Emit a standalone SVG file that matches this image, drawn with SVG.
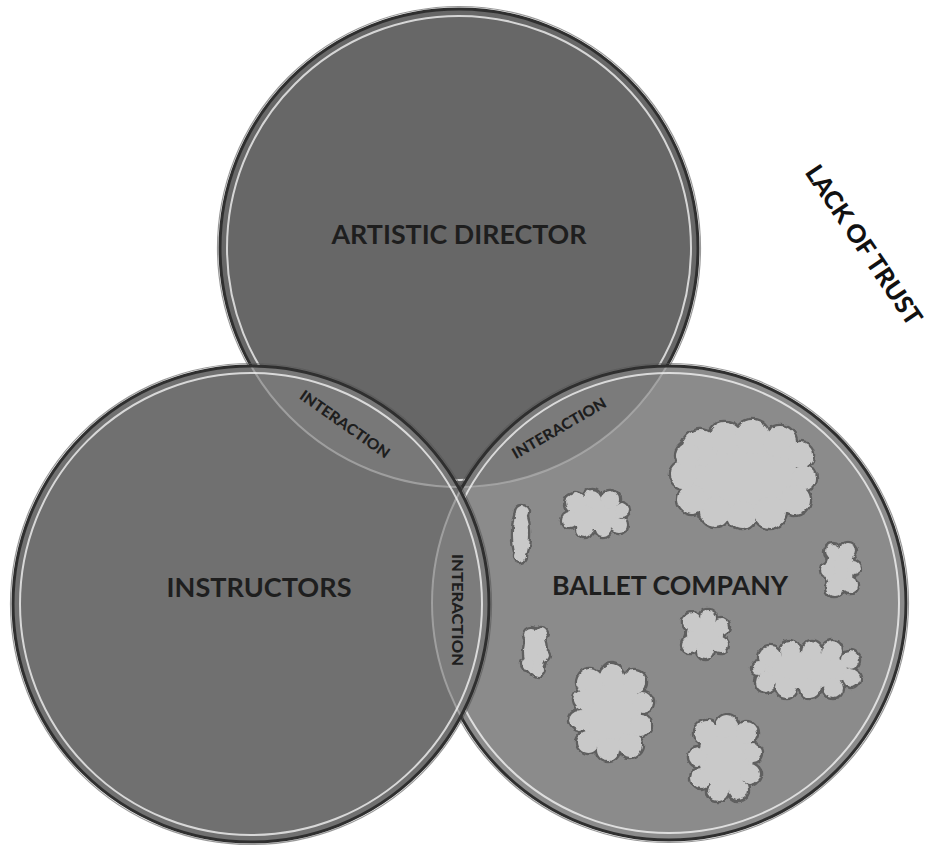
<svg xmlns="http://www.w3.org/2000/svg" xmlns:xlink="http://www.w3.org/1999/xlink" width="933" height="849" viewBox="0 0 933 849">
<style>
.lbl{font-family:Lato,"Open Sans","Liberation Sans",sans-serif;font-weight:700;fill:#1e1e1e;text-anchor:middle}
.big{font-size:27px}
.small{font-size:15px;font-weight:900}
.rimOut{fill:none;stroke:#2f2f2f;stroke-width:3}
.rimShadow{fill:none;stroke:#555;stroke-width:1.2;opacity:.6}
.rimHi{fill:none;stroke:#f2f2f2;stroke-width:2;opacity:.8}
.hidden{fill:none;stroke:#b0b0b0;stroke-width:2;opacity:.7}
.cloud-edge{fill:#5e5e5e;stroke:#5e5e5e;stroke-width:4.5}
.cloud-body{fill:#c9c9c9;stroke:none}
</style>
<defs>
<filter id="rough" x="-10%" y="-10%" width="120%" height="120%">
<feTurbulence type="fractalNoise" baseFrequency="0.12" numOctaves="2" seed="7" result="n"/>
<feDisplacementMap in="SourceGraphic" in2="n" scale="5" xChannelSelector="R" yChannelSelector="G"/>
</filter>
<clipPath id="cT"><circle cx="459" cy="248" r="239"/></clipPath>
<clipPath id="cL"><circle cx="251" cy="604" r="238"/></clipPath>
<clipPath id="cR"><circle cx="669" cy="603" r="237"/></clipPath>
<g id="cl1"><ellipse cx="742" cy="476" rx="55" ry="38"/><circle cx="700" cy="448" r="18"/><circle cx="725" cy="438" r="16"/><circle cx="752" cy="437" r="17"/><circle cx="780" cy="442" r="16"/><circle cx="800" cy="455" r="13"/><circle cx="804" cy="478" r="12"/><circle cx="795" cy="500" r="15"/><circle cx="770" cy="512" r="16"/><circle cx="742" cy="515" r="14"/><circle cx="715" cy="512" r="15"/><circle cx="692" cy="500" r="14"/><circle cx="684" cy="475" r="14"/><circle cx="688" cy="455" r="12"/></g>
<g id="cl2"><ellipse cx="595" cy="515" rx="26" ry="16"/><circle cx="575" cy="503" r="10"/><circle cx="592" cy="499" r="9"/><circle cx="610" cy="500" r="9"/><circle cx="622" cy="510" r="7"/><circle cx="619" cy="525" r="8"/><circle cx="603" cy="529" r="8"/><circle cx="585" cy="529" r="8"/><circle cx="570" cy="520" r="8"/></g>
<g id="cl3"><ellipse cx="521" cy="534" rx="8" ry="27"/><circle cx="522" cy="512" r="6"/><circle cx="520" cy="556" r="6"/></g>
<g id="cl4"><ellipse cx="840" cy="570" rx="14" ry="22"/><circle cx="833" cy="552" r="8"/><circle cx="848" cy="551" r="8"/><circle cx="853" cy="568" r="7"/><circle cx="850" cy="585" r="8"/><circle cx="834" cy="588" r="8"/><circle cx="828" cy="570" r="7"/></g>
<g id="cl5"><ellipse cx="705" cy="635" rx="18" ry="17"/><circle cx="692" cy="622" r="9"/><circle cx="708" cy="618" r="8"/><circle cx="721" cy="627" r="8"/><circle cx="720" cy="645" r="8"/><circle cx="705" cy="651" r="8"/><circle cx="690" cy="645" r="8"/></g>
<g id="cl6"><ellipse cx="535" cy="652" rx="11" ry="22"/><circle cx="531" cy="635" r="7"/><circle cx="541" cy="634" r="6"/><circle cx="543" cy="655" r="6"/><circle cx="538" cy="670" r="6"/><circle cx="528" cy="664" r="6"/></g>
<g id="cl7"><ellipse cx="806" cy="670" rx="42" ry="18"/><circle cx="770" cy="657" r="11"/><circle cx="790" cy="651" r="10"/><circle cx="812" cy="651" r="10"/><circle cx="832" cy="651" r="10"/><circle cx="850" cy="660" r="9"/><circle cx="851" cy="678" r="9"/><circle cx="833" cy="688" r="10"/><circle cx="810" cy="688" r="10"/><circle cx="786" cy="688" r="10"/><circle cx="766" cy="682" r="10"/><circle cx="759" cy="668" r="7"/></g>
<g id="cl8"><ellipse cx="611" cy="712" rx="30" ry="38"/><circle cx="590" cy="682" r="13"/><circle cx="612" cy="676" r="12"/><circle cx="634" cy="682" r="12"/><circle cx="643" cy="702" r="10"/><circle cx="640" cy="725" r="11"/><circle cx="630" cy="745" r="12"/><circle cx="608" cy="750" r="11"/><circle cx="588" cy="742" r="11"/><circle cx="580" cy="720" r="10"/><circle cx="583" cy="700" r="10"/></g>
<g id="cl9"><ellipse cx="726" cy="757" rx="27" ry="33"/><circle cx="706" cy="733" r="12"/><circle cx="727" cy="726" r="11"/><circle cx="746" cy="733" r="11"/><circle cx="753" cy="753" r="9"/><circle cx="750" cy="774" r="10"/><circle cx="738" cy="790" r="10"/><circle cx="718" cy="791" r="10"/><circle cx="701" cy="778" r="10"/><circle cx="698" cy="757" r="9"/></g>
</defs>
<rect width="933" height="849" fill="#ffffff"/>

<g id="artistic-director">
<circle cx="459" cy="248" r="239" fill="#676767"/>
<circle class="rimShadow" cx="459" cy="248" r="241.5"/>
<circle class="rimOut" cx="459" cy="248" r="239"/>
<circle class="rimHi" cx="459" cy="248" r="232"/>
<text class="lbl big" x="459" y="244" textLength="255" lengthAdjust="spacingAndGlyphs">ARTISTIC DIRECTOR</text>
</g>

<g id="ballet-company">
<circle cx="669" cy="603" r="237" fill="#8b8b8b"/>
<circle cx="459" cy="248" r="239" clip-path="url(#cR)" fill="#7b7b7b"/>
<circle class="hidden" cx="459" cy="248" r="239" clip-path="url(#cR)"/>
<circle class="rimShadow" cx="669" cy="603" r="239.5"/>
<circle class="rimOut" cx="669" cy="603" r="237"/>
<circle class="rimHi" cx="669" cy="603" r="230"/>
<g id="clouds" filter="url(#rough)">
<use xlink:href="#cl1" class="cloud-edge"/><use xlink:href="#cl1" class="cloud-body"/>
<use xlink:href="#cl2" class="cloud-edge"/><use xlink:href="#cl2" class="cloud-body"/>
<use xlink:href="#cl3" class="cloud-edge"/><use xlink:href="#cl3" class="cloud-body"/>
<use xlink:href="#cl4" class="cloud-edge"/><use xlink:href="#cl4" class="cloud-body"/>
<use xlink:href="#cl5" class="cloud-edge"/><use xlink:href="#cl5" class="cloud-body"/>
<use xlink:href="#cl6" class="cloud-edge"/><use xlink:href="#cl6" class="cloud-body"/>
<use xlink:href="#cl7" class="cloud-edge"/><use xlink:href="#cl7" class="cloud-body"/>
<use xlink:href="#cl8" class="cloud-edge"/><use xlink:href="#cl8" class="cloud-body"/>
<use xlink:href="#cl9" class="cloud-edge"/><use xlink:href="#cl9" class="cloud-body"/>
</g>
<text class="lbl big" x="670" y="595" textLength="236" lengthAdjust="spacingAndGlyphs">BALLET COMPANY</text>
</g>

<g id="instructors">
<circle cx="251" cy="604" r="238" fill="#707070"/>
<circle cx="459" cy="248" r="239" clip-path="url(#cL)" fill="#787878"/>
<circle cx="669" cy="603" r="237" clip-path="url(#cL)" fill="#7c7c7c"/>
<circle class="hidden" cx="459" cy="248" r="239" clip-path="url(#cL)"/>
<circle class="hidden" cx="669" cy="603" r="237" clip-path="url(#cL)"/>
<circle class="rimShadow" cx="251" cy="604" r="240.5"/>
<circle class="rimOut" cx="251" cy="604" r="238"/>
<circle class="rimHi" cx="251" cy="604" r="231"/>
<text class="lbl big" x="259" y="597" textLength="185" lengthAdjust="spacingAndGlyphs">INSTRUCTORS</text>
</g>

<g id="interaction-left">
<text class="lbl small" transform="translate(345,424) rotate(35)" x="0" y="5.5" textLength="106" lengthAdjust="spacingAndGlyphs">INTERACTION</text>
</g>
<g id="interaction-right">
<text class="lbl small" transform="translate(559,428) rotate(-30)" x="0" y="5.5" textLength="106" lengthAdjust="spacingAndGlyphs">INTERACTION</text>
</g>
<g id="interaction-bottom">
<text class="lbl small" transform="translate(457,610) rotate(90)" x="0" y="5.5" textLength="112" lengthAdjust="spacingAndGlyphs">INTERACTION</text>
</g>

<g id="lack-of-trust">
<text class="lbl" style="font-size:25px;font-weight:900;fill:#111" transform="translate(864,245) rotate(56)" x="0" y="9" textLength="187" lengthAdjust="spacingAndGlyphs">LACK OF TRUST</text>
</g>
</svg>
